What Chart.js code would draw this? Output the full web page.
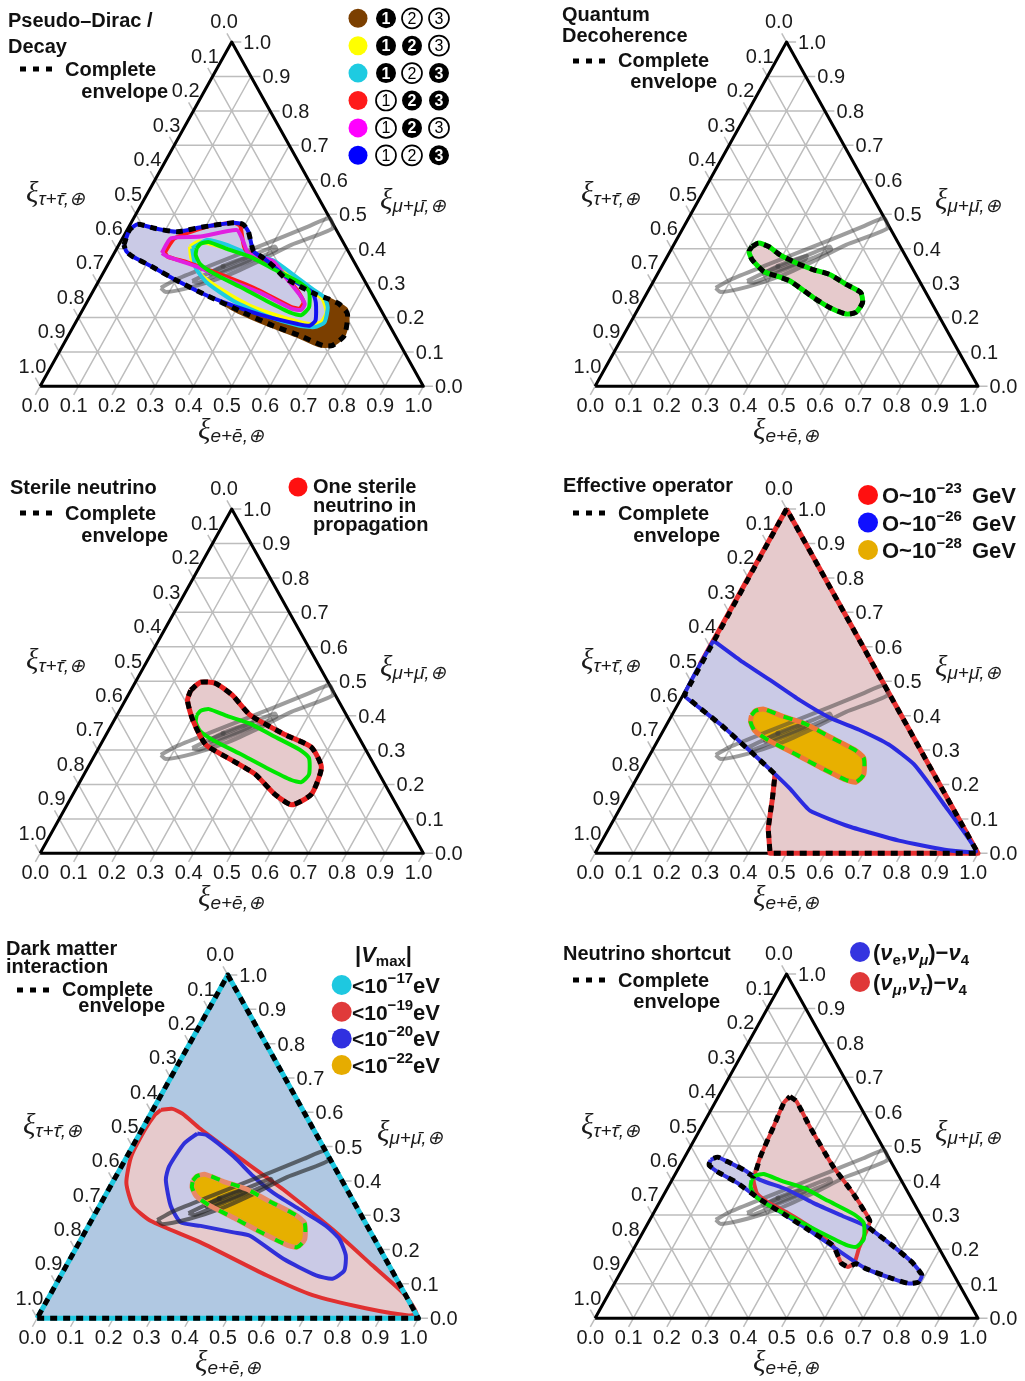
<!DOCTYPE html>
<html>
<head>
<meta charset="utf-8">
<title>Flavour composition triangles</title>
<script src="https://cdn.jsdelivr.net/npm/chart.js@4.4.1/dist/chart.umd.min.js"></script>
<style>
  body { margin: 0; width: 1025px; height: 1381px; position: relative; overflow: hidden; background: #fff; }
  canvas { position: absolute; }
</style>
</head>
<body>
<canvas id="pd" width="512" height="466" style="left:0;top:0"></canvas>
<canvas id="qd" width="470" height="466" style="left:555px;top:0"></canvas>
<canvas id="sn" width="512" height="466" style="left:0;top:467px"></canvas>
<canvas id="eo" width="470" height="466" style="left:555px;top:467px"></canvas>
<canvas id="dm" width="512" height="449" style="left:0;top:932px"></canvas>
<canvas id="ns" width="470" height="449" style="left:555px;top:932px"></canvas>
<script>
// ---- data: every point is [xi_e, xi_mu]  (xi_tau = 1 - xi_e - xi_mu)
var tickValues = [0, 0.1, 0.2, 0.3, 0.4, 0.5, 0.6, 0.7, 0.8, 0.9, 1.0];
var tickLabels = ['0.0', '0.1', '0.2', '0.3', '0.4', '0.5', '0.6', '0.7', '0.8', '0.9', '1.0'];

// grey measured contours, same in every triangle
var grayOuter = [[0.172, 0.286], [0.199, 0.310], [0.266, 0.349], [0.333, 0.387], [0.400, 0.425], [0.467, 0.464],
    [0.511, 0.488], [0.534, 0.459], [0.450, 0.411], [0.388, 0.363], [0.323, 0.320], [0.253, 0.289], [0.191, 0.274]];
var grayMiddle = [[0.244, 0.306], [0.282, 0.334], [0.342, 0.368], [0.409, 0.406], [0.418, 0.397], [0.383, 0.373],
    [0.316, 0.334], [0.264, 0.301]];
var grayInner = [[0.279, 0.331], [0.307, 0.353], [0.363, 0.379], [0.364, 0.368], [0.314, 0.339], [0.282, 0.325]];
var grayCentre = [[0.303, 0.349]];

// green standard-mixing contour
var greenStandard = [[0.208, 0.401], [0.212, 0.414], [0.231, 0.419], [0.288, 0.399], [0.359, 0.377], [0.438, 0.341],
    [0.527, 0.301], [0.563, 0.277], [0.587, 0.229], [0.578, 0.207], [0.549, 0.213], [0.467, 0.248], [0.377, 0.289],
    [0.289, 0.328], [0.239, 0.356], [0.215, 0.382]];

// Pseudo-Dirac / Decay
var pdEnvelope = [[0.013, 0.411], [0.006, 0.454], [0.019, 0.471], [0.069, 0.459], [0.134, 0.449], [0.188, 0.462],
    [0.267, 0.475], [0.295, 0.470], [0.319, 0.449], [0.361, 0.392], [0.396, 0.373], [0.434, 0.349], [0.481, 0.315],
    [0.531, 0.291], [0.587, 0.267], [0.628, 0.253], [0.661, 0.239], [0.697, 0.210], [0.720, 0.148], [0.704, 0.119],
    [0.678, 0.119], [0.603, 0.148], [0.520, 0.176], [0.412, 0.219], [0.305, 0.263], [0.206, 0.306], [0.115, 0.349],
    [0.053, 0.377], [0.029, 0.392]];
var pdBrown = [[0.188, 0.397], [0.200, 0.411], [0.316, 0.377], [0.443, 0.330], [0.553, 0.282], [0.639, 0.248],
    [0.686, 0.224], [0.709, 0.186], [0.718, 0.143], [0.699, 0.119], [0.669, 0.119], [0.595, 0.148], [0.500, 0.181],
    [0.393, 0.224], [0.297, 0.277], [0.228, 0.339]];
var pdYellow = [[0.188, 0.406], [0.204, 0.421], [0.267, 0.406], [0.348, 0.382], [0.418, 0.363], [0.489, 0.325],
    [0.573, 0.277], [0.611, 0.253], [0.640, 0.215], [0.640, 0.186], [0.612, 0.181], [0.534, 0.200], [0.431, 0.234],
    [0.330, 0.282], [0.256, 0.325], [0.208, 0.373]];
var pdCyan = [[0.196, 0.401], [0.223, 0.425], [0.282, 0.411], [0.346, 0.387], [0.425, 0.366], [0.497, 0.325],
    [0.571, 0.282], [0.613, 0.258], [0.636, 0.229], [0.649, 0.186], [0.630, 0.172], [0.589, 0.176], [0.488, 0.205],
    [0.381, 0.248], [0.285, 0.301], [0.234, 0.344]];
var pdRed = [[0.131, 0.389], [0.136, 0.430], [0.212, 0.466], [0.267, 0.475], [0.289, 0.466], [0.337, 0.397],
    [0.433, 0.351], [0.528, 0.282], [0.565, 0.245], [0.564, 0.226], [0.537, 0.232], [0.424, 0.282], [0.308, 0.325],
    [0.204, 0.360], [0.144, 0.377]];
var pdMagenta = [[0.124, 0.387], [0.126, 0.430], [0.201, 0.435], [0.286, 0.454], [0.316, 0.425], [0.350, 0.387],
    [0.427, 0.363], [0.485, 0.315], [0.543, 0.267], [0.571, 0.239], [0.570, 0.222], [0.543, 0.226], [0.438, 0.272],
    [0.332, 0.310], [0.237, 0.347], [0.144, 0.377]];
var pdBlue = [[0.013, 0.411], [0.006, 0.454], [0.019, 0.471], [0.069, 0.459], [0.134, 0.449], [0.188, 0.462],
    [0.267, 0.475], [0.295, 0.470], [0.319, 0.449], [0.361, 0.392], [0.396, 0.373], [0.434, 0.349], [0.484, 0.318],
    [0.545, 0.289], [0.575, 0.272], [0.598, 0.243], [0.623, 0.191], [0.615, 0.176], [0.582, 0.181], [0.489, 0.203],
    [0.388, 0.234], [0.305, 0.263], [0.206, 0.306], [0.115, 0.349], [0.053, 0.377], [0.029, 0.392]];
var pdKeyColours = ['#7b3f00', '#ffff00', '#1ecbe1', '#ff1a1a', '#ff00ff', '#0000ff'];
var pdKeyFilled = [[1, 0, 0], [1, 1, 0], [1, 0, 1], [0, 1, 1], [0, 1, 0], [0, 0, 1]];

// Quantum decoherence
var qdEnvelope = [[0.207, 0.406], [0.219, 0.416], [0.250, 0.406], [0.292, 0.382], [0.347, 0.358], [0.400, 0.339],
    [0.450, 0.325], [0.508, 0.296], [0.558, 0.272], [0.577, 0.243], [0.574, 0.215], [0.551, 0.210], [0.498, 0.229],
    [0.441, 0.258], [0.356, 0.306], [0.315, 0.320], [0.273, 0.334], [0.226, 0.368], [0.206, 0.392]];

// Sterile neutrino
var snEnvelope = [[0.156, 0.474], [0.170, 0.497], [0.210, 0.494], [0.271, 0.460], [0.347, 0.402], [0.466, 0.345],
    [0.554, 0.308], [0.609, 0.250], [0.622, 0.172], [0.586, 0.141], [0.526, 0.172], [0.446, 0.230], [0.360, 0.273],
    [0.274, 0.316], [0.204, 0.388], [0.162, 0.445]];

// Effective operator
var eoRed = [[0, 1], [0, 0.55], [0.355, 0.230], [0.384, 0.158], [0.416, 0.072], [0.457, 0], [1, 0]];
var eoBlue = [[0, 0.618], [0.100, 0.560], [0.206, 0.503], [0.312, 0.445], [0.416, 0.394], [0.510, 0.359],
    [0.609, 0.316], [0.703, 0.259], [0.838, 0.144], [0.992, 0.006], [0.918, 0.009], [0.775, 0.037], [0.625, 0.078],
    [0.499, 0.124], [0.416, 0.187], [0.355, 0.230], [0.258, 0.296], [0.141, 0.374], [0.048, 0.431], [0.003, 0.460]];
var eoEnvelope = [[0, 1], [0.003, 0.460], [0.048, 0.431], [0.141, 0.374], [0.258, 0.296], [0.355, 0.230],
    [0.384, 0.158], [0.416, 0.072], [0.457, 0], [1, 0]];
var eoKeyLabels = ['\u221223', '\u221226', '\u221228'];

// Dark matter interaction
var dmCyan = [[0, 0], [1, 0], [0, 1]];
var dmRed = [[0.021, 0.607], [0.050, 0.610], [0.083, 0.596], [0.152, 0.552], [0.275, 0.480], [0.458, 0.375],
    [0.645, 0.259], [0.802, 0.154], [0.932, 0.067], [0.988, 0.014], [0.970, 0.008], [0.847, 0.029], [0.689, 0.067],
    [0.539, 0.125], [0.318, 0.221], [0.157, 0.283], [0.088, 0.327], [0.037, 0.394], [0.011, 0.471], [0.008, 0.548],
    [0.012, 0.591]];
var dmBlue = [[0.151, 0.538], [0.179, 0.533], [0.280, 0.471], [0.361, 0.413], [0.437, 0.365], [0.530, 0.317],
    [0.623, 0.269], [0.677, 0.231], [0.718, 0.183], [0.736, 0.139], [0.717, 0.115], [0.669, 0.125], [0.559, 0.173],
    [0.438, 0.240], [0.390, 0.250], [0.294, 0.269], [0.237, 0.279], [0.187, 0.327], [0.136, 0.403], [0.125, 0.442],
    [0.131, 0.509]];
var dmKeyLabels = ['\u221217', '\u221219', '\u221220', '\u221222'];

// Neutrino shortcut
var nsRed = [[0.187, 0.644], [0.211, 0.630], [0.283, 0.556], [0.401, 0.441], [0.491, 0.364], [0.576, 0.283],
    [0.582, 0.254], [0.587, 0.206], [0.597, 0.161], [0.586, 0.149], [0.562, 0.161], [0.516, 0.211], [0.431, 0.264],
    [0.350, 0.306], [0.284, 0.336], [0.242, 0.362], [0.213, 0.402], [0.197, 0.469], [0.188, 0.556], [0.180, 0.627]];
var nsBlue = [[0.072, 0.460], [0.086, 0.468], [0.118, 0.455], [0.173, 0.431], [0.230, 0.402], [0.314, 0.374],
    [0.402, 0.335], [0.498, 0.297], [0.573, 0.268], [0.671, 0.211], [0.746, 0.163], [0.791, 0.125], [0.792, 0.105],
    [0.769, 0.101], [0.719, 0.115], [0.635, 0.144], [0.529, 0.201], [0.434, 0.254], [0.352, 0.297], [0.259, 0.345],
    [0.175, 0.393], [0.106, 0.426], [0.075, 0.445]];
var nsEnvelope = [[0.187, 0.644], [0.211, 0.630], [0.283, 0.556], [0.401, 0.441], [0.491, 0.364], [0.576, 0.283],
    [0.580, 0.266], [0.671, 0.211], [0.746, 0.163], [0.791, 0.125], [0.792, 0.105], [0.769, 0.101], [0.719, 0.115],
    [0.635, 0.144], [0.602, 0.158], [0.586, 0.149], [0.562, 0.161], [0.516, 0.211], [0.434, 0.254], [0.352, 0.297],
    [0.259, 0.345], [0.175, 0.393], [0.106, 0.426], [0.075, 0.445], [0.072, 0.460], [0.086, 0.468], [0.118, 0.455],
    [0.173, 0.431], [0.208, 0.412], [0.197, 0.469], [0.188, 0.556], [0.180, 0.627]];

// ---- drawing helpers
var FONT = '"Liberation Sans", Arial, Helvetica, sans-serif';
var TICK = 0.025;
var LAV = 'rgb(202,202,230)', PINK = 'rgb(230,202,204)', STEEL = 'rgb(176,200,226)';
var DASH = [7, 6];

function bold(px) { return 'bold ' + px + 'px ' + FONT; }
function tp(e, mu) { return {x: e + mu / 2, y: mu}; }
function ring(arr) {
    var d = arr.map(function (p) { return tp(p[0], p[1]); });
    d.push(d[0]);
    return d;
}
function fillSet(arr, colour, tension) {
    return {data: ring(arr), fill: 'shape', backgroundColor: colour, borderColor: 'rgba(0,0,0,0)',
        borderWidth: 0, tension: tension === undefined ? 0.2 : tension};
}
function lineSet(arr, colour, width, dash, tension) {
    return {data: ring(arr), fill: false, borderColor: colour, borderWidth: width, borderDash: dash || [],
        borderCapStyle: 'butt', borderJoinStyle: 'round', tension: tension === undefined ? 0.2 : tension};
}
function gridSet() {
    var gap = {x: null, y: null}, d = [];
    tickValues.forEach(function (v) {
        d.push(tp(0, v), tp(1 - v + TICK, v), gap);          // constant mu, tick to the right
        d.push(tp(v, -TICK), tp(v, 1 - v), gap);             // constant e, tick below
        d.push(tp(-TICK, 1 - v + TICK), tp(1 - v, 0), gap);  // constant tau, tick to the left
    });
    return {data: d, fill: false, borderColor: '#bdbdbd', borderWidth: 1.5, tension: 0};
}
function outlineSet() { return lineSet([[0, 0], [1, 0], [0, 1]], '#000', 3, [], 0); }
function graySets(colour) {
    return [lineSet(grayOuter, colour, 4), lineSet(grayMiddle, colour, 4), lineSet(grayInner, colour, 4),
        {data: grayCentre.map(function (p) { return tp(p[0], p[1]); }), showLine: false,
            pointRadius: 2.5, pointBackgroundColor: colour, pointBorderWidth: 0}];
}

function drawTicks(chart) {
    var ctx = chart.ctx, sx = chart.scales.x, sy = chart.scales.y;
    function px(e, mu) { return [sx.getPixelForValue(e + mu / 2), sy.getPixelForValue(mu)]; }
    ctx.save();
    ctx.fillStyle = '#1a1a1a';
    ctx.font = '20px ' + FONT;
    tickValues.forEach(function (v, i) {
        var b = px(v, -TICK), r = px(1 - v + TICK, v), l = px(-TICK, 1 - v + TICK);
        ctx.textAlign = 'center';
        ctx.fillText(tickLabels[i], b[0], b[1] + 17);
        ctx.textAlign = 'left';
        ctx.fillText(tickLabels[i], r[0] + 2, r[1] + 7);
        ctx.textAlign = 'right';
        ctx.fillText(tickLabels[i], l[0] + 11, l[1] - 5);
    });
    ctx.restore();
}
function axisSymbol(ctx, x, y, sub) {
    ctx.textAlign = 'left';
    ctx.font = 'italic 29px "Liberation Serif", "DejaVu Serif", serif';
    ctx.fillText('\u03BE', x, y);
    var w = ctx.measureText('\u03BE').width;
    ctx.font = 'italic 19px ' + FONT;
    ctx.fillText(sub, x + w, y + 3);
}
function drawAxisTitles(ctx, g) {
    ctx.save();
    ctx.fillStyle = '#1a1a1a';
    axisSymbol(ctx, g.x0 - 12, g.y0 - 186, '\u03C4+\u03C4\u0304,\u2295');
    axisSymbol(ctx, g.x0 + 342, g.y0 - 179, '\u03BC+\u03BC\u0304,\u2295');
    axisSymbol(ctx, g.x0 + 160, g.y0 + 51, 'e+\u0113,\u2295');
    ctx.restore();
}
function text(ctx, s, x, y, font, align) {
    ctx.font = font;
    ctx.textAlign = align || 'left';
    ctx.fillText(s, x, y);
}
function rich(ctx, x, y, parts) {
    ctx.textAlign = 'left';
    parts.forEach(function (p) {
        ctx.font = p.f;
        ctx.fillText(p.t, x, y + (p.dy || 0));
        x += ctx.measureText(p.t).width + (p.sp || 0);
    });
}
function dot(ctx, x, y, r, colour) {
    ctx.beginPath();
    ctx.arc(x, y, r, 0, Math.PI * 2);
    ctx.fillStyle = colour;
    ctx.fill();
    ctx.fillStyle = '#111';
}
function envelopeKey(ctx, x, y, cx, cy, ex, ey) {
    ctx.save();
    ctx.strokeStyle = '#000';
    ctx.lineWidth = 5;
    ctx.setLineDash([6, 7]);
    ctx.beginPath();
    ctx.moveTo(x, y);
    ctx.lineTo(x + 32, y);
    ctx.stroke();
    ctx.restore();
    text(ctx, 'Complete', cx, cy, bold(20));
    text(ctx, 'envelope', ex, ey, bold(20), 'right');
}
function circledDigit(ctx, x, y, n, filled) {
    ctx.beginPath();
    ctx.arc(x, y, 10, 0, Math.PI * 2);
    ctx.fillStyle = filled ? '#000' : '#fff';
    ctx.fill();
    if (!filled) {
        ctx.lineWidth = 1.7;
        ctx.strokeStyle = '#000';
        ctx.stroke();
    }
    ctx.fillStyle = filled ? '#fff' : '#000';
    ctx.font = (filled ? 'bold ' : '') + '16px ' + FONT;
    ctx.textAlign = 'center';
    ctx.textBaseline = 'middle';
    ctx.fillText(String(n), x, y + 1);
    ctx.textBaseline = 'alphabetic';
    ctx.fillStyle = '#111';
}

function makePanel(id, g, sets, decorate) {
    var canvas = document.getElementById(id);
    sets.forEach(function (s, i) {
        s.order = sets.length - i;
        if (s.pointRadius === undefined) s.pointRadius = 0;
    });
    new Chart(canvas, {
        type: 'line',
        data: {datasets: sets},
        options: {
            responsive: false,
            animation: false,
            events: [],
            layout: {padding: 0},
            elements: {point: {radius: 0, hoverRadius: 0}},
            scales: {
                x: {type: 'linear', display: false, min: -g.x0 / g.w, max: (canvas.width - g.x0) / g.w},
                y: {type: 'linear', display: false, min: (g.y0 - canvas.height) / g.h, max: g.y0 / g.h}
            },
            plugins: {legend: {display: false}, tooltip: {enabled: false}, title: {display: false}}
        },
        plugins: [{
            id: 'ternaryDecor',
            afterDatasetsDraw: function (chart) {
                var ctx = chart.ctx;
                drawTicks(chart);
                drawAxisTitles(ctx, g);
                ctx.save();
                ctx.fillStyle = '#111';
                decorate(ctx);
                ctx.restore();
            }
        }]
    });
}

var geo = {x0: 38, y0: 388, w: 387, h: 348};
var geoDm = {x0: 35, y0: 388, w: 385, h: 347};
var GRAY = 'rgba(60,60,60,0.5)';
var GREEN = '#00e600';

// 1. Pseudo-Dirac / Decay
makePanel('pd', geo, [gridSet(), outlineSet(),
    fillSet(pdBrown, '#7b3f00'), lineSet(pdBrown, '#7b3f00', 4),
    fillSet(pdYellow, LAV), fillSet(pdCyan, LAV), fillSet(pdRed, LAV), fillSet(pdMagenta, LAV), fillSet(pdBlue, LAV)]
    .concat(graySets(GRAY))
    .concat([
        lineSet(pdYellow, '#ffff00', 4), lineSet(pdCyan, '#1ecbe1', 4),
        lineSet(pdRed, '#ff1a1a', 4), lineSet(pdMagenta, '#e020e0', 4), lineSet(pdBlue, '#1010f0', 4),
        lineSet(greenStandard, GREEN, 4), lineSet(pdEnvelope, '#000', 5, DASH)
    ]), function (ctx) {
    text(ctx, 'Pseudo\u2013Dirac /', 8, 27, bold(20));
    text(ctx, 'Decay', 8, 53, bold(20));
    envelopeKey(ctx, 20, 69, 65, 76, 168, 98);
    pdKeyColours.forEach(function (c, i) {
        var y = 18.3 + 27.4 * i;
        dot(ctx, 358, y, 9.5, c);
        circledDigit(ctx, 386, y, 1, pdKeyFilled[i][0]);
        circledDigit(ctx, 412, y, 2, pdKeyFilled[i][1]);
        circledDigit(ctx, 439, y, 3, pdKeyFilled[i][2]);
    });
});

// 2. Quantum decoherence
makePanel('qd', geo, [gridSet(), outlineSet(), fillSet(qdEnvelope, PINK)]
    .concat(graySets(GRAY))
    .concat([lineSet(qdEnvelope, GREEN, 5), lineSet(qdEnvelope, '#000', 5, DASH)]), function (ctx) {
    text(ctx, 'Quantum', 7, 21, bold(20));
    text(ctx, 'Decoherence', 7, 42, bold(20));
    envelopeKey(ctx, 18, 61, 63, 67, 162, 88);
});

// 3. Sterile neutrino
makePanel('sn', geo, [gridSet(), outlineSet(), fillSet(snEnvelope, PINK)]
    .concat(graySets(GRAY))
    .concat([lineSet(greenStandard, GREEN, 4), lineSet(snEnvelope, '#e82020', 5),
        lineSet(snEnvelope, '#000', 5, DASH)]), function (ctx) {
    text(ctx, 'Sterile neutrino', 10, 27, bold(20));
    envelopeKey(ctx, 20, 46, 65, 53, 168, 75);
    dot(ctx, 298, 20, 9.5, '#ff1010');
    text(ctx, 'One sterile', 313, 26, bold(20));
    text(ctx, 'neutrino in', 313, 45, bold(20));
    text(ctx, 'propagation', 313, 64, bold(20));
});

// 4. Effective operator
makePanel('eo', geo, [gridSet(), outlineSet(),
    fillSet(eoRed, PINK, 0), lineSet(eoRed, '#e83030', 5, [], 0),
    fillSet(eoBlue, LAV, 0.15), fillSet(greenStandard, '#e8b000')]
    .concat(graySets(GRAY))
    .concat([lineSet(eoBlue, '#2a2ae0', 4, [], 0.15), lineSet(greenStandard, '#f07838', 5),
        lineSet(greenStandard, GREEN, 4, [9, 9]), lineSet(eoEnvelope, '#000', 5, DASH, 0)]), function (ctx) {
    text(ctx, 'Effective operator', 8, 25, bold(20));
    envelopeKey(ctx, 18, 46, 63, 53, 165, 75);
    var cols = ['#ff1010', '#1010ff', '#e6ac00'];
    eoKeyLabels.forEach(function (s, i) {
        var y = 28 + 27.5 * i;
        dot(ctx, 313, y, 10, cols[i]);
        rich(ctx, 327, y + 8, [{t: 'O~10', f: bold(22)}, {t: s, f: bold(15), dy: -10, sp: 4},
            {t: ' GeV', f: bold(22)}]);
    });
});

// 5. Dark matter interaction
makePanel('dm', geoDm, [gridSet(), fillSet(dmCyan, STEEL, 0), fillSet(dmRed, PINK), lineSet(dmRed, '#e03030', 4),
    fillSet(dmBlue, LAV), lineSet(dmBlue, '#3030d8', 4), fillSet(greenStandard, '#e6b000')]
    .concat(graySets('rgba(40,40,40,0.65)'))
    .concat([lineSet(greenStandard, '#e88868', 5), lineSet(greenStandard, GREEN, 4, [9, 12]),
        lineSet(dmCyan, '#1ec8e0', 5, [], 0), lineSet(dmCyan, '#000', 5, DASH, 0)]), function (ctx) {
    text(ctx, 'Dark matter', 6, 23, bold(20));
    text(ctx, 'interaction', 6, 41, bold(20));
    envelopeKey(ctx, 17, 58, 62, 64, 165, 80);
    rich(ctx, 355, 30, [{t: '|', f: bold(22)}, {t: 'V', f: 'italic ' + bold(22)},
        {t: 'max', f: bold(15), dy: 4}, {t: '|', f: bold(22)}]);
    var cols = ['#1ec8e0', '#e03a3a', '#3030e0', '#e6ac00'];
    dmKeyLabels.forEach(function (s, i) {
        var y = 53 + 26.7 * i;
        dot(ctx, 341.7, y, 10, cols[i]);
        rich(ctx, 352, y + 8, [{t: '<10', f: bold(21)}, {t: s, f: bold(15), dy: -10},
            {t: 'eV', f: bold(22)}]);
    });
});

// 6. Neutrino shortcut
makePanel('ns', geo, [gridSet(), outlineSet(), fillSet(nsRed, PINK, 0.15), fillSet(nsBlue, LAV)]
    .concat(graySets(GRAY))
    .concat([lineSet(nsRed, '#e03838', 4, [], 0.15), lineSet(nsBlue, '#3030e0', 4), lineSet(greenStandard, GREEN, 4),
        lineSet(nsEnvelope, '#000', 5, DASH, 0.15)]), function (ctx) {
    text(ctx, 'Neutrino shortcut', 8, 28, bold(20));
    envelopeKey(ctx, 18, 48, 63, 55, 165, 76);
    var bi = 'italic ' + bold(22);
    var bs = bold(15), bis = 'italic ' + bold(15);
    dot(ctx, 305, 20, 10, '#3434e0');
    rich(ctx, 318, 28, [{t: '(', f: bold(22)}, {t: '\u03BD', f: bi}, {t: 'e', f: bs, dy: 5},
        {t: ',', f: bold(22)}, {t: '\u03BD', f: bi}, {t: '\u03BC', f: bis, dy: 5},
        {t: ')\u2212', f: bold(22)}, {t: '\u03BD', f: bi}, {t: '4', f: bs, dy: 5}]);
    dot(ctx, 305, 50, 10, '#e03838');
    rich(ctx, 318, 58, [{t: '(', f: bold(22)}, {t: '\u03BD', f: bi}, {t: '\u03BC', f: bis, dy: 5},
        {t: ',', f: bold(22)}, {t: '\u03BD', f: bi}, {t: '\u03C4', f: bis, dy: 5},
        {t: ')\u2212', f: bold(22)}, {t: '\u03BD', f: bi}, {t: '4', f: bs, dy: 5}]);
});
</script>
</body>
</html>
